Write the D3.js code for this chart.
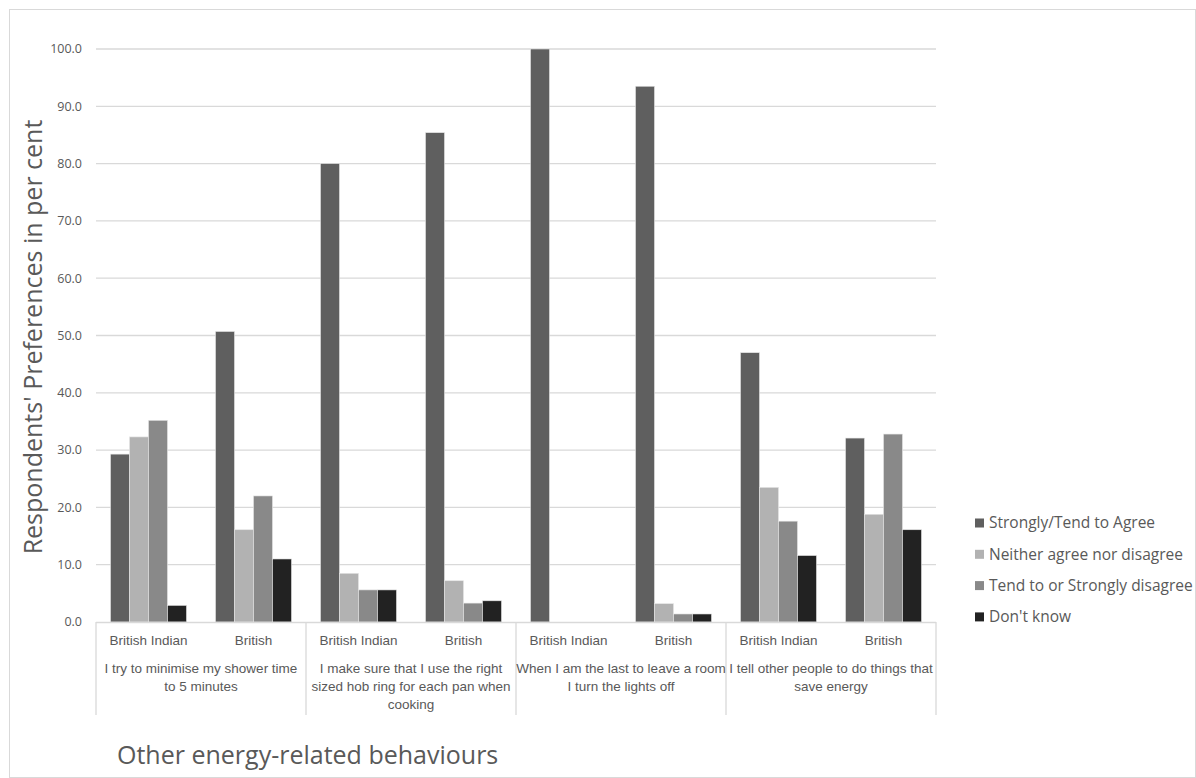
<!DOCTYPE html>
<html><head><meta charset="utf-8">
<script src="https://cdn.jsdelivr.net/npm/d3@7"></script>
<style>body{margin:0;background:#fff;} svg{display:block;}</style>
</head><body>
<svg id="c" width="1196" height="778"></svg>
<script>
const behaviours = [
  ["I try to minimise my shower time", "to 5 minutes"],
  ["I make sure that I use the right", "sized hob ring for each pan when", "cooking"],
  ["When I am the last to leave a room", "I turn the lights off"],
  ["I tell other people to do things that", "save energy"]
];
const groups = ["British Indian", "British"];
const seriesNames = ["Strongly/Tend to Agree", "Neither agree nor disagree", "Tend to or Strongly disagree", "Don't know"];
const agree    = [29.3, 50.7, 80.0, 85.4, 100.0, 93.5, 47.0, 32.1];
const neither  = [32.3, 16.1, 8.5, 7.2, 0, 3.2, 23.5, 18.8];
const disagree = [35.2, 22.0, 5.6, 3.3, 0, 1.4, 17.6, 32.8];
const dontKnow = [2.9, 11.0, 5.6, 3.7, 0, 1.4, 11.6, 16.1];
const yTicks = [0, 10, 20, 30, 40, 50, 60, 70, 80, 90, 100];
const colors = ["#5f5f5f", "#b2b2b2", "#898989", "#222222"];
const seriesValues = [agree, neither, disagree, dontKnow];

const font = "'Liberation Sans Narrow','Arial Narrow','Liberation Sans',sans-serif";
const font2 = "'Open Sans','Liberation Sans',sans-serif";
const svg = d3.select("#c");
const L = 96, R = 936, T = 49, B = 622;

svg.append("rect").attr("x", 9.5).attr("y", 9.5).attr("width", 1186).attr("height", 768)
  .attr("fill", "none").attr("stroke", "#d9d9d9");

const cats = [];
behaviours.forEach((b, i) => groups.forEach((g, j) => cats.push(i + "|" + j)));

const y = d3.scaleLinear().domain([0, 100]).range([B, T]);
const x0 = d3.scaleBand().domain(cats).range([L, R]);
const x1 = d3.scaleBand().domain(seriesNames).range([14.5, x0.bandwidth() - 14.5]);
const xB = d3.scaleBand().domain(d3.range(behaviours.length)).range([L, R]);

// gridlines
svg.append("g").selectAll("line").data(yTicks.filter(t => t > 0)).join("line")
  .attr("x1", L).attr("x2", R).attr("y1", d => y(d)).attr("y2", d => y(d))
  .attr("stroke", "#d9d9d9").attr("stroke-width", 1.3);

// y tick labels
svg.append("g").selectAll("text").data(yTicks).join("text")
  .attr("x", 82).attr("y", d => y(d)).attr("dy", "0.35em").attr("text-anchor", "end")
  .attr("font-family", font2).attr("font-size", 12.5).attr("fill", "#595959")
  .text(d => d.toFixed(1));

// bars
const gBars = svg.append("g");
seriesValues.forEach((vals, s) => {
  gBars.append("g").selectAll("rect").data(vals).join("rect")
    .attr("x", (d, i) => x0(cats[i]) + x1(seriesNames[s]))
    .attr("width", x1.bandwidth())
    .attr("y", d => y(d))
    .attr("height", d => B - y(d))
    .attr("fill", colors[s])
    .attr("stroke", d => d > 0 ? "#e6e6e6" : "none").attr("stroke-width", 0.6);
});

// category axis
const ax = svg.append("g");
ax.append("line").attr("x1", L).attr("x2", R).attr("y1", B + 0.5).attr("y2", B + 0.5)
  .attr("stroke", "#d9d9d9").attr("stroke-width", 1.3);
d3.range(behaviours.length + 1).forEach(i => {
  const xx = i < behaviours.length ? xB(i) : R;
  ax.append("line").attr("x1", xx).attr("x2", xx).attr("y1", B).attr("y2", 715)
    .attr("stroke", "#d9d9d9").attr("stroke-width", 1.3);
});
ax.append("g").selectAll("text").data(cats).join("text")
  .attr("x", d => x0(d) + x0.bandwidth() / 2).attr("y", 645).attr("text-anchor", "middle")
  .attr("font-family", font).attr("font-size", 13.5).attr("fill", "#595959")
  .text(d => groups[+d.split("|")[1]]);
behaviours.forEach((lines, i) => {
  const t = ax.append("text").attr("text-anchor", "middle")
    .attr("font-family", font).attr("font-size", 13.5).attr("fill", "#595959");
  lines.forEach((ln, k) => {
    t.append("tspan").attr("x", xB(i) + xB.bandwidth() / 2).attr("y", 673 + k * 18).text(ln);
  });
});

// axis titles
svg.append("text").attr("transform", "translate(42,337) rotate(-90)").attr("text-anchor", "middle")
  .attr("font-family", font2).attr("font-size", 25).attr("fill", "#595959")
  .text("Respondents' Preferences in per cent");
svg.append("text").attr("x", 117).attr("y", 764)
  .attr("font-family", font2).attr("font-size", 25).attr("fill", "#595959")
  .text("Other energy-related behaviours");

// legend
const lg = svg.append("g").selectAll("g").data(seriesNames).join("g")
  .attr("transform", (d, i) => `translate(975,${523 + i * 31.3})`);
lg.append("rect").attr("x", 0).attr("y", -4.5).attr("width", 9).attr("height", 9)
  .attr("fill", (d, i) => colors[i]);
lg.append("text").attr("x", 14).attr("dy", "0.35em")
  .attr("font-family", font2).attr("font-size", 15.5).attr("fill", "#595959")
  .text(d => d);
</script>
</body></html>
